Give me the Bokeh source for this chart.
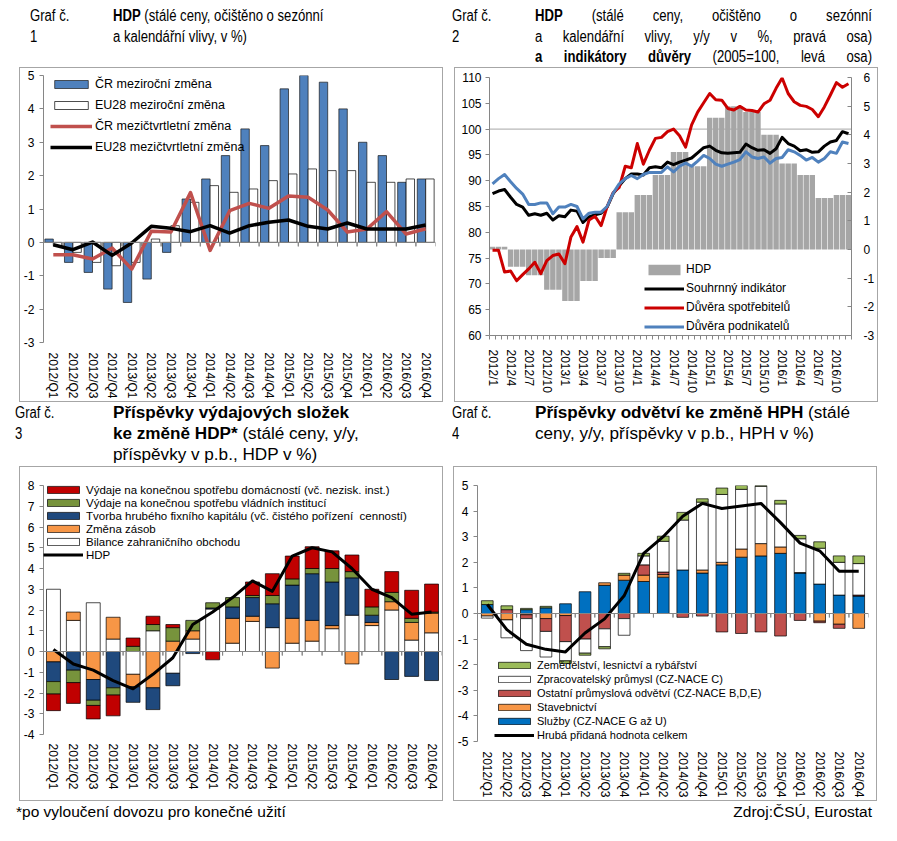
import numpy as np
from bokeh.plotting import figure
from bokeh.models import (FactorRange, Range1d, LinearAxis, Legend, LegendItem, Div,
                          FixedTicker, ColumnDataSource, Span)
from bokeh.layouts import column, row
from bokeh.transform import dodge
from bokeh.embed import file_html
from bokeh.resources import INLINE

# ---------------- data ----------------
quarters = [f"{y}/Q{q}" for y in range(2012, 2017) for q in range(1, 5)]
months = [f"{y}/{m}" for y in range(2012, 2017) for m in range(1, 13)]

# Graf 1
gdp_cz_yoy = [0.1, -0.6, -0.9, -1.4, -1.8, -1.1, -0.3, 1.3, 1.9, 2.6,
              3.4, 2.9, 4.6, 5.0, 4.8, 4.0, 3.0, 2.6, 1.8, 1.9]
gdp_eu_yoy = [-0.1, -0.3, -0.6, -0.7, -0.6, 0.1, 0.5, 1.2, 1.7, 1.5,
              1.6, 1.85, 2.05, 2.2, 2.15, 2.15, 1.8, 1.8, 1.9, 1.9]
gdp_cz_qoq = [-0.37, -0.37, -0.5, -0.17, -0.8, 0.33, 0.31, 1.49, -0.24, 0.95,
              1.17, 1.02, 1.39, 1.35, 0.97, 0.31, 0.4, 0.92, 0.25, 0.41]
gdp_eu_qoq = [-0.07, -0.22, 0.01, -0.39, -0.02, 0.48, 0.42, 0.32, 0.5, 0.28,
              0.5, 0.6, 0.67, 0.48, 0.4, 0.58, 0.4, 0.4, 0.4, 0.52]

# Graf 2 (monthly, 2012/1 - 2016/12)
composite = [87.5, 88.0, 88.3, 86.8, 85.4, 84.9, 83.3, 83.6, 83.3, 83.7,
             82.4, 83.2, 83.0, 84.3, 84.1, 81.9, 83.0, 83.4, 83.7, 84.9,
             87.5, 89.0, 90.4, 91.3, 91.3, 91.1, 92.5, 92.7, 92.5, 93.6,
             93.1, 93.6, 94.0, 94.4, 95.4, 96.4, 96.7, 95.9, 95.4, 95.3,
             95.4, 95.5, 97.1, 96.4, 95.9, 96.0, 95.3, 96.2, 98.4, 97.2,
             96.7, 95.8, 96.0, 95.5, 95.6, 96.7, 97.5, 97.8, 99.5, 99.1]
consumers = [76.5, 76.5, 72.3, 72.5, 70.6, 71.8, 72.9, 74.2, 72.0, 74.5,
             75.5, 75.8, 73.9, 79.1, 81.1, 78.1, 82.4, 83.1, 81.3, 85.0,
             87.7, 88.7, 92.8, 92.5, 97.2, 93.2, 95.9, 98.2, 98.4, 99.5,
             100.0, 98.7, 96.5, 100.8, 103.3, 105.1, 106.9, 105.7, 105.6, 104.0,
             103.7, 104.4, 103.7, 103.6, 103.3, 104.9, 105.6, 107.9, 109.9, 106.9,
             105.3, 104.6, 104.4, 103.8, 102.4, 104.3, 106.6, 109.0, 108.1, 108.8]
business = [89.4, 90.4, 91.2, 89.8, 88.5, 87.4, 85.4, 85.4, 85.7, 85.7,
            83.6, 84.9, 84.9, 85.4, 85.0, 82.6, 83.7, 83.9, 83.9, 85.0,
            87.6, 89.4, 90.4, 91.0, 90.4, 91.2, 91.6, 91.6, 91.6, 92.7,
            91.7, 92.8, 93.4, 92.8, 93.8, 94.9, 94.3, 93.2, 92.8, 93.2,
            93.6, 94.1, 95.6, 94.6, 94.3, 94.6, 93.4, 94.3, 94.5, 96.0,
            95.6, 94.9, 94.0, 94.5, 93.6, 94.3, 95.6, 95.3, 97.5, 97.2]

# Graf 3 (contributions, p.b.)
hh_cons = [-0.8, -1.0, -0.65, -1.0, 0.4, 0.4, 0.15, 0.0, -0.4, 0.0,
           0.65, 1.05, 1.1, 1.05, 0.85, 0.8, 0.85, 1.0, 1.35, 1.35]
gov_cons = [-0.6, -0.6, -0.25, -0.35, 0.25, 0.3, 0.65, 0.5, 0.25, 0.45,
            0.1, 0.4, 0.3, 0.25, 0.65, 0.3, 0.4, 0.45, 0.2, 0.05]
gfcf = [-0.95, -0.9, -1.0, -1.75, -0.75, -1.05, -0.6, -0.1, 0.05, 0.55,
        0.9, 1.15, 1.6, 2.25, 2.1, 1.8, 0.35, -1.35, -1.2, -1.4]
inventories = [-0.5, 0.4, -1.35, 1.05, -0.6, -1.75, 0.5, 0.4, 0.0, 1.2,
               0.25, -0.8, 1.2, 1.0, 0.15, -0.6, 0.15, 0.4, 0.85, 0.95]
net_trade = [3.0, 1.5, 2.35, 0.6, -1.1, 1.0, -1.05, 0.6, 2.05, 0.4,
             1.45, 1.15, 0.4, 0.5, 1.1, 1.75, 1.25, 2.0, 0.55, 0.9]

# Graf 4 (contributions, p.b.)
services = [0.35, 0.0, 0.15, 0.22, 0.38, 0.85, 1.1, 1.3, 1.25, 1.42,
            1.7, 1.58, 1.9, 2.2, 2.25, 2.35, 1.58, 1.15, 0.72, 0.68]
construction = [-0.1, -0.25, -0.05, -0.2, -0.08, 0.0, 0.1, 0.2, 0.25, 0.1,
                0.0, 0.12, 0.1, 0.32, 0.48, 0.25, 0.02, -0.3, -0.42, -0.58]
other_industry = [0.0, 0.15, -0.15, -0.5, -1.02, -1.0, -0.6, -0.2, 0.4, 0.1,
                  -0.15, -0.1, -0.72, -0.78, -0.72, -0.88, -0.27, -0.06, -0.16, 0.04]
manufacturing = [-0.08, -0.7, -1.25, -1.0, -0.75, -0.55, -0.7, -0.65, 0.35, 1.2,
                 1.95, 2.65, 2.65, 2.33, 2.24, 1.68, 1.32, 1.4, 1.28, 1.23]
agriculture = [0.15, 0.15, 0.05, 0.06, -0.1, -0.08, -0.08, 0.07, 0.1, 0.2,
               0.3, 0.13, 0.25, 0.15, 0.03, 0.14, 0.13, 0.25, 0.25, 0.3]
gva_total = [0.35, -0.63, -1.2, -1.4, -1.5, -0.76, -0.21, 0.69, 2.35, 3.0,
             3.8, 4.3, 4.1, 4.2, 4.3, 3.55, 2.75, 2.45, 1.65, 1.65]

# ---------------- styling helpers ----------------
AX = "#868686"
FONT = "Liberation Sans"


def base_fig(x_range, y_range, fw, fh, mb):
    p = figure(x_range=x_range, y_range=y_range, frame_width=fw, frame_height=fh,
               output_backend="svg", toolbar_location=None,
               min_border_left=mb[0], min_border_right=mb[1],
               min_border_top=mb[2], min_border_bottom=mb[3], margin=0)
    p.xgrid.visible = False
    p.ygrid.visible = False
    p.outline_line_color = None
    p.background_fill_color = "white"
    p.border_fill_color = "white"
    return p


def boxed(p, margin_left):
    # panel frame: fixed outer box with a thin grey border, clipping spare space
    return column(p, width=424, height=335, margin=(0, 0, 0, margin_left),
                  styles={"border": "1px solid #a6a6a6", "overflow": "hidden",
                          "box-sizing": "border-box"})


def style_y(ax, ticks, standoff=5, tick_in=0, tick_out=4):
    ax.ticker = FixedTicker(ticks=ticks)
    ax.major_label_overrides = {t: str(t) for t in ticks}
    ax.axis_label = None
    ax.axis_line_color = AX
    ax.major_tick_line_color = AX
    ax.major_tick_in = tick_in
    ax.major_tick_out = tick_out
    ax.minor_tick_line_color = None
    ax.major_label_text_font = FONT
    ax.major_label_text_font_size = "12px"
    ax.major_label_text_color = "black"
    ax.major_label_standoff = standoff


def style_x_common(ax, standoff):
    ax.axis_label = None
    ax.major_label_orientation = "vertical"
    ax.major_label_text_font = FONT
    ax.major_label_text_font_size = "12px"
    ax.major_label_text_color = "black"
    ax.major_label_standoff = standoff
    ax.major_tick_out = 0
    ax.major_tick_in = 0
    ax.major_tick_line_color = None


def style_cat_x(ax, standoff):
    style_x_common(ax, standoff)
    ax.axis_line_color = None


def zero_axis(p, tick_len):
    p.add_layout(Span(location=0, dimension="width", line_color=AX, line_width=1))
    n = len(quarters)
    src = ColumnDataSource(dict(q=quarters, y0=[0] * n, y1=[-tick_len] * n))
    for off in (-0.5, 0.5):
        d = dodge("q", off, range=p.x_range)
        p.segment(x0=d, x1=d, y0="y0", y1="y1", source=src, line_color=AX, line_width=1)


def add_legend(p, items, loc, gw, gh, lh, sp, fs, so):
    lg = Legend(items=items, location=loc, glyph_width=gw, glyph_height=gh,
                label_height=lh, spacing=sp, padding=0, margin=0, label_standoff=so,
                background_fill_alpha=0, border_line_alpha=0,
                label_text_font=FONT, label_text_font_size=fs,
                label_text_color="black")
    p.add_layout(lg)


def draw_stack(p, series, width):
    n = len(quarters)
    pos = np.zeros(n)
    neg = np.zeros(n)
    rends = []
    for label, vals, color in series:
        v = np.asarray(vals, dtype=float)
        bottom = np.where(v >= 0, pos, neg)
        top = bottom + v
        pos = pos + np.clip(v, 0, None)
        neg = neg + np.clip(v, None, 0)
        keep = v != 0
        src = ColumnDataSource(dict(q=[q for q, k in zip(quarters, keep) if k],
                                    bottom=bottom[keep], top=top[keep]))
        r = p.vbar(x="q", bottom="bottom", top="top", width=width, source=src,
                   fill_color=color, line_color="black", line_width=0.7)
        rends.append((label, r))
    return rends


# ---------------- Graf 1 ----------------
p1 = base_fig(FactorRange(*quarters), Range1d(-3, 5), 392, 268, (23, 7, 7, 58))
style_y(p1.yaxis[0], list(range(-3, 6)))
style_cat_x(p1.xaxis[0], 10)
zero_axis(p1, 4 * 8 / 268)
src1 = ColumnDataSource(dict(q=quarters, cz=gdp_cz_yoy, eu=gdp_eu_yoy,
                             czq=gdp_cz_qoq, euq=gdp_eu_qoq))
r1a = p1.vbar(x=dodge("q", -0.215, range=p1.x_range), top="cz", bottom=0, width=0.43,
              source=src1, fill_color="#4f81bd", line_color="#1a1a1a", line_width=0.7)
r1b = p1.vbar(x=dodge("q", 0.215, range=p1.x_range), top="eu", bottom=0, width=0.43,
              source=src1, fill_color="white", line_color="black", line_width=0.7)
r1c = p1.line(x="q", y="czq", source=src1, line_color="#c0504d", line_width=3.5, line_join="round")
r1d = p1.line(x="q", y="euq", source=src1, line_color="black", line_width=3.5, line_join="round")
add_legend(p1, [LegendItem(label="ČR meziroční změna", renderers=[r1a]),
                LegendItem(label="EU28 meziroční změna", renderers=[r1b]),
                LegendItem(label="ČR mezičtvrtletní změna", renderers=[r1c]),
                LegendItem(label="EU28 mezičtvrtletní změna", renderers=[r1d])],
           (7, 188), 42, 10, 15, 6, "12.5px", 3)

# ---------------- Graf 2 ----------------
idx = np.arange(len(months))
p2 = base_fig(Range1d(-0.5, len(months) - 0.5), Range1d(60, 110), 364, 258, (34, 25, 9, 66))
p2.extra_y_ranges = {"right": Range1d(-3, 6)}
style_y(p2.yaxis[0], list(range(60, 111, 5)), standoff=4)
ax_r = LinearAxis(y_range_name="right")
style_y(ax_r, list(range(-3, 7)), standoff=12, tick_in=4, tick_out=0)
p2.add_layout(ax_r, "right")
xa = p2.xaxis[0]
style_x_common(xa, 10)
xa.ticker = FixedTicker(ticks=list(range(0, len(months), 3)),
                        minor_ticks=[i - 0.5 for i in range(len(months) + 1)])
xa.major_label_overrides = {i: months[i] for i in range(0, len(months), 3)}
xa.axis_line_color = AX
xa.minor_tick_line_color = AX
xa.minor_tick_out = 4
xa.minor_tick_in = 0
p2.add_layout(Span(location=100, dimension="width", line_color="#a6a6a6", line_width=1, level="underlay"))
src2 = ColumnDataSource(dict(x=idx, gdp=np.repeat(gdp_cz_yoy, 3), comp=composite,
                             cons=consumers, bus=business))
r2a = p2.vbar(x="x", top="gdp", bottom=0, width=0.9, source=src2, y_range_name="right",
              fill_color="#a6a6a6", line_color=None)
r2b = p2.line(x="x", y="comp", source=src2, line_color="black", line_width=3, line_join="round")
r2c = p2.line(x="x", y="cons", source=src2, line_color="#cc0000", line_width=3, line_join="round")
r2d = p2.line(x="x", y="bus", source=src2, line_color="#4f81bd", line_width=3, line_join="round")
add_legend(p2, [LegendItem(label="HDP", renderers=[r2a]),
                LegendItem(label="Souhrnný indikátor", renderers=[r2b]),
                LegendItem(label="Důvěra spotřebitelů", renderers=[r2c]),
                LegendItem(label="Důvěra podnikatelů", renderers=[r2d])],
           (155, 2), 40, 13, 14, 5, "12px", 2)

# ---------------- Graf 3 ----------------
p3 = base_fig(FactorRange(*quarters), Range1d(-4, 8), 398, 249, (23, 1, 18, 66))
style_y(p3.yaxis[0], list(range(-4, 9)))
style_cat_x(p3.xaxis[0], 9)
zero_axis(p3, 4 * 12 / 249)
s3 = draw_stack(p3, [
    ("Bilance zahraničního obchodu", net_trade, "white"),
    ("Změna zásob", inventories, "#f79646"),
    ("Tvorba hrubého fixního kapitálu (vč. čistého pořízení  cenností)", gfcf, "#1f497d"),
    ("Výdaje na konečnou spotřebu vládních institucí", gov_cons, "#77933c"),
    ("Výdaje na konečnou spotřebu domácností (vč. nezisk. inst.)", hh_cons, "#c00000"),
], 0.7)
r3 = p3.line(x=quarters, y=gdp_cz_yoy, line_color="black", line_width=3, line_join="round")
add_legend(p3, [LegendItem(label=l, renderers=[r]) for l, r in reversed(s3)] +
           [LegendItem(label="HDP", renderers=[r3])],
           (0, 173), 40, 9, 13, 0, "11.5px", 3)

# ---------------- Graf 4 ----------------
p4 = base_fig(FactorRange(*quarters), Range1d(-5, 5), 391, 258, (23, 8, 18, 57))
style_y(p4.yaxis[0], list(range(-5, 6)))
style_cat_x(p4.xaxis[0], 10)
zero_axis(p4, 4 * 10 / 258)
s4 = draw_stack(p4, [
    ("Služby (CZ-NACE G až U)", services, "#0070c0"),
    ("Stavebnictví", construction, "#f79646"),
    ("Ostatní průmyslová odvětví (CZ-NACE B,D,E)", other_industry, "#c0504d"),
    ("Zpracovatelský průmysl (CZ-NACE C)", manufacturing, "white"),
    ("Zemědělství, lesnictví a rybářství", agriculture, "#9bbb59"),
], 0.6)
r4 = p4.line(x=quarters, y=gva_total, line_color="black", line_width=3, line_join="round")
add_legend(p4, [LegendItem(label=l, renderers=[r]) for l, r in reversed(s4)] +
           [LegendItem(label="Hrubá přidaná hodnota celkem", renderers=[r4])],
           (17, -1), 40, 8, 14, 0, "11px", 3)

# ---------------- titles ----------------
TF = "font-family:'Liberation Sans',Arial,sans-serif;font-size:16px;color:#000;"
SX = "transform:scaleX(0.82);transform-origin:0 0;white-space:nowrap;"
SW = "transform:scaleX(1.07);transform-origin:0 0;white-space:nowrap;"
J = "text-align:justify;text-align-last:justify;white-space:nowrap;"
BB = "box-sizing:border-box;flex:none;"

t1 = Div(width=437, height=59, margin=0, text=(
    f"<div style=\"display:flex;{TF}line-height:20.5px;margin-top:-2px\">"
    f"<div style='{BB}width:105px;padding-left:22px'><div style='{SX}'>Graf č.<br>1</div></div>"
    f"<div style='{BB}width:330px'><div style='{SX}'><b>HDP</b> (stálé ceny, očištěno o sezónní<br>"
    "a kalendářní vlivy, v %)</div></div></div>"))
t2 = Div(width=440, height=59, margin=0, text=(
    f"<div style=\"display:flex;{TF}line-height:20.5px;margin-top:-2px\">"
    f"<div style='{BB}width:90px;padding-left:7px'><div style='{SX}'>Graf č.<br>2</div></div>"
    f"<div style='{BB}width:337px'><div style='{SX}width:411px'>"
    f"<div style='{J}'><b>HDP</b> (stálé ceny, očištěno o sezónní</div>"
    f"<div style='{J}'>a kalendářní vlivy, y/y v %, pravá osa)</div>"
    f"<div style='{J}'><b>a indikátory důvěry</b> (2005=100, levá osa)</div></div></div></div>"))
t3 = Div(width=437, height=64, margin=0, text=(
    f"<div style=\"display:flex;{TF}line-height:21px\">"
    f"<div style='{BB}width:105px;padding-left:7px'><div style='{SX}'>Graf č.<br>3</div></div>"
    f"<div style='{BB}width:330px'><div style='{SW}'><b>Příspěvky výdajových složek<br>ke změně HDP*</b>"
    " (stálé ceny, y/y,<br>příspěvky v p.b., HDP v %)</div></div></div>"))
t4 = Div(width=440, height=64, margin=0, text=(
    f"<div style=\"display:flex;{TF}line-height:21px\">"
    f"<div style='{BB}width:90px;padding-left:7px'><div style='{SX}'>Graf č.<br>4</div></div>"
    f"<div style='{BB}width:345px'><div style='{SW}'><b>Příspěvky odvětví ke změně HPH</b> (stálé<br>"
    "ceny, y/y, příspěvky v p.b., HPH v %)</div></div></div>"))
foot = Div(width=877, height=30, margin=0, text=(
    "<div style=\"display:flex;justify-content:space-between;width:864px;box-sizing:border-box;"
    "font-family:'Liberation Sans',Arial,sans-serif;"
    "font-size:15.5px;line-height:22px;color:#000;padding-left:8px\">"
    "<span>*po vyloučení dovozu pro konečné užití</span><span>Zdroj:ČSÚ, Eurostat</span></div>"))

layout = column(row(t1, t2), row(boxed(p1, 11), boxed(p2, 11)), row(t3, t4),
                row(boxed(p3, 11), boxed(p4, 10)), foot, margin=(8, 8, 8, 8))

with open("out.html", "w") as f:
    f.write(file_html(layout, INLINE, title="HDP"))
